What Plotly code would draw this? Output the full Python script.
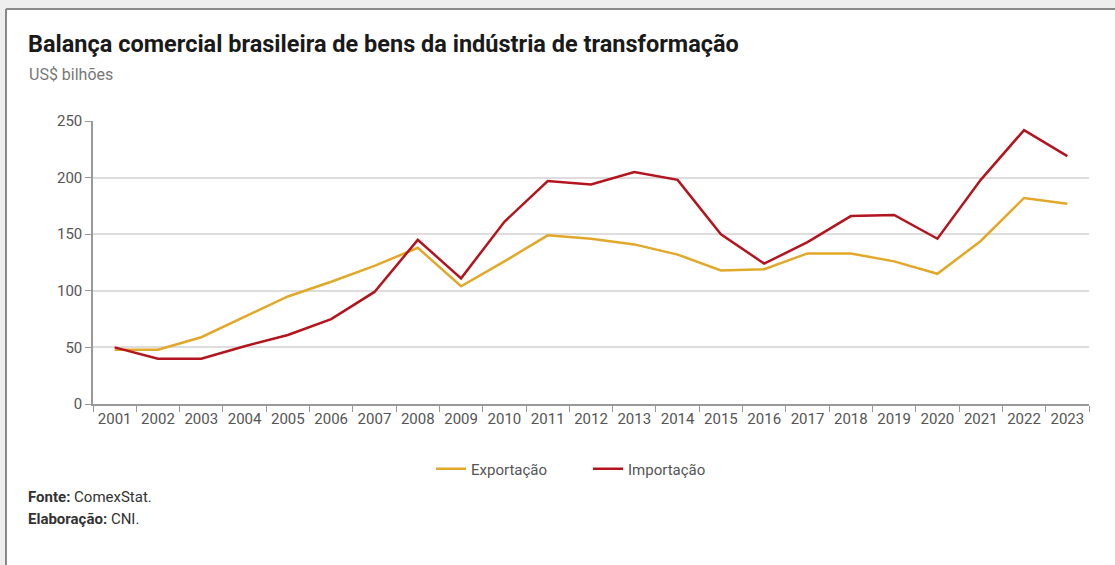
import plotly.graph_objects as go

years = [str(y) for y in range(2001, 2024)]
exportacao = [48, 48, 59, 77, 95, 108, 122, 138, 104, 126, 149, 146, 141, 132, 118, 119, 133, 133, 126, 115, 144, 182, 177]
importacao = [50, 40, 40, 51, 61, 75, 99, 145, 111, 161, 197, 194, 205, 198, 150, 124, 143, 166, 167, 146, 198, 242, 219]

W, H = 1115, 565
L, R, T, B = 93, 26, 121, 161
pw, ph = W - L - R, H - T - B

def px(x):
    return (x - L) / pw

def py(y):
    return (H - B - y) / ph

FONT = "Roboto"

fig = go.Figure()
fig.add_trace(go.Scatter(x=years, y=exportacao, mode="lines", name="Exportação",
                         line=dict(color="#E1A82A", width=2.5)))
fig.add_trace(go.Scatter(x=years, y=importacao, mode="lines", name="Importação",
                         line=dict(color="#B3141E", width=2.5)))

fig.update_layout(
    width=W, height=H,
    margin=dict(l=L, r=R, t=T, b=B),
    paper_bgcolor="white", plot_bgcolor="white",
    font=dict(family=FONT, color="#555555", size=15),
    showlegend=True,
    legend=dict(orientation="h", x=px(588), xanchor="center", y=py(469), yanchor="middle",
                font=dict(size=15, color="#555555"), entrywidth=112, tracegroupgap=0,
                bgcolor="rgba(0,0,0,0)"),
    xaxis=dict(type="category", range=[-0.5, 22.5], tickson="boundaries", ticks="outside",
               ticklen=6, tickcolor="#999999", showline=True, linecolor="#999999", linewidth=1.5,
               showgrid=False, tickfont=dict(size=15, color="#555555"), fixedrange=True),
    yaxis=dict(range=[0, 250], tickvals=[0, 50, 100, 150, 200, 250], ticks="outside",
               ticklen=6, tickcolor="#999999", showline=True, linecolor="#999999", linewidth=1.5,
               showgrid=True, gridcolor="#dddddd", gridwidth=1.5, zeroline=False,
               tickfont=dict(size=15, color="#555555"), fixedrange=True),
)

# frame of the card
fig.add_shape(type="rect", xref="paper", yref="paper", x0=px(0), x1=px(W), y0=py(9), y1=py(0),
              fillcolor="#eeeeee", line_width=0, layer="below")
fig.add_shape(type="rect", xref="paper", yref="paper", x0=px(0), x1=px(6), y0=py(H), y1=py(0),
              fillcolor="#eeeeee", line_width=0, layer="below")
fig.add_shape(type="line", xref="paper", yref="paper", x0=px(6), x1=px(W), y0=py(9), y1=py(9),
              line=dict(color="#888888", width=2))
fig.add_shape(type="line", xref="paper", yref="paper", x0=px(6), x1=px(6), y0=py(9), y1=py(H),
              line=dict(color="#888888", width=2))

fig.add_annotation(xref="paper", yref="paper", x=px(26), y=py(44), xanchor="left", yanchor="middle",
                   text="<b>Balança comercial brasileira de bens da indústria de transformação</b>",
                   showarrow=False, font=dict(family=FONT, size=23.5, color="#1a1a1a"))
fig.add_annotation(xref="paper", yref="paper", x=px(27), y=py(75), xanchor="left", yanchor="middle",
                   text="US$ bilhões", showarrow=False, font=dict(family=FONT, size=16, color="#777777"))
fig.add_annotation(xref="paper", yref="paper", x=px(26), y=py(497), xanchor="left", yanchor="middle",
                   text="<b>Fonte:</b> ComexStat.", showarrow=False,
                   font=dict(family=FONT, size=15, color="#333333"))
fig.add_annotation(xref="paper", yref="paper", x=px(26), y=py(519), xanchor="left", yanchor="middle",
                   text="<b>Elaboração:</b> CNI.", showarrow=False,
                   font=dict(family=FONT, size=15, color="#333333"))

fig.write_html("out.html")
